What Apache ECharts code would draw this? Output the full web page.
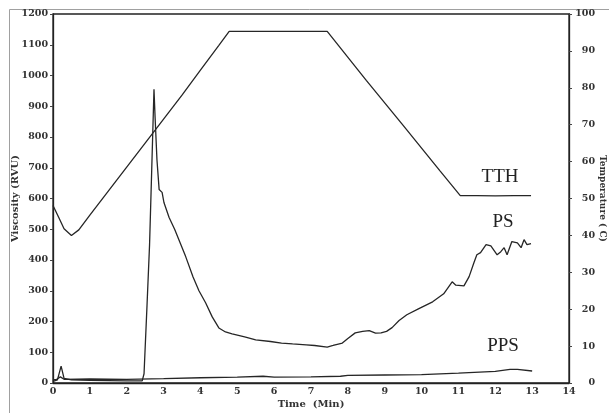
<!DOCTYPE html>
<html>
<head>
<meta charset="utf-8">
<script src="https://cdn.jsdelivr.net/npm/echarts@6/dist/echarts.min.js"></script>
<style>html,body{margin:0;padding:0;background:#fff;}#c{width:609px;height:413px;}</style>
</head>
<body>
<div id="c"></div>
<script>
// ---- data ----
const xTicks = [0,1,2,3,4,5,6,7,8,9,10,11,12,13,14];
const viscTicks = [0,100,200,300,400,500,600,700,800,900,1000,1100,1200];
const tempTicks = [0,10,20,30,40,50,60,70,80,90,100];

// TTH: temperature profile (right axis, deg C)
const tthTime = [0,0.05,0.15,0.3,0.5,0.7,1.0,1.5,2.0,2.5,3.0,3.5,4.0,4.5,4.78,5.5,6.5,7.44,8.5,9.5,10.5,11.05,11.5,12.0,12.5,12.97];
const tthTemp = [48.1,48.0,45.0,41.8,40.0,41.5,45.5,52.0,58.5,65.0,71.5,78.0,84.8,91.5,95.3,95.3,95.3,95.3,82.0,69.8,57.5,50.8,50.8,50.7,50.8,50.8];

// PS: paste viscosity (left axis, RVU)
const psTime = [0,0.12,0.22,0.3,0.5,1.0,1.5,2.0,2.42,2.47,2.55,2.62,2.68,2.74,2.77,2.82,2.88,2.96,3.01,3.15,3.3,3.6,3.8,3.96,4.14,4.32,4.5,4.68,4.86,5.2,5.5,5.9,6.2,6.5,6.87,7.1,7.44,7.6,7.85,8.0,8.2,8.4,8.58,8.75,8.9,9.05,9.2,9.39,9.6,9.9,10.3,10.6,10.83,10.93,11.15,11.29,11.42,11.5,11.6,11.75,11.88,12.05,12.15,12.24,12.32,12.45,12.6,12.7,12.78,12.86,12.97];
const psVisc = [5,10,55,15,10,9,8,7,7,30,250,450,700,955,864,727,629,620,587,538,500,411,345,300,261,215,179,166,160,150,140,135,130,127,124,122,117,122,130,145,163,168,170,162,163,168,180,203,222,240,264,290,329,318,316,346,391,417,424,450,446,417,427,440,417,460,456,440,466,450,453];

// PPS: (left axis, RVU)
const ppsTime = [0,0.1,0.2,0.3,1,2,3,4,5,5.7,6,7,7.8,8,9,10,11,12,12.4,12.6,13];
const ppsVisc = [10,12,20,12,13,12,14,17,19,22,19,20,22,25,26,27,32,38,44,44,39];

const zip = (a,b) => a.map((v,i) => [v,b[i]]);

const serif = 'DejaVu Serif';
const plain = v => String(v);
const labelStyle = {fontFamily: serif, fontSize: 9.5, fontWeight: 'bold', color: '#333', formatter: plain};
const lineStyle = {color: '#262626', width: 1.3};

const chart = echarts.init(document.getElementById('c'));
chart.setOption({
  animation: false,
  backgroundColor: '#fff',
  grid: {left: 53, right: 40, top: 14, bottom: 30, containLabel: false, outerBoundsMode: 'none',
         show: true, borderColor: '#222', borderWidth: 1.3},
  xAxis: {
    type: 'value', min: xTicks[0], max: xTicks[xTicks.length-1], interval: 1,
    name: 'Time  (Min)', nameLocation: 'middle', nameGap: 16, nameMoveOverlap: false,
    nameTextStyle: {fontFamily: serif, fontSize: 10, fontWeight: 'bold', color: '#333'},
    axisLine: {lineStyle: {color: '#222', width: 1.3}},
    axisTick: {show: false},
    axisLabel: Object.assign({margin: 4}, labelStyle),
    splitLine: {show: false}
  },
  yAxis: [{
    type: 'value', min: viscTicks[0], max: viscTicks[viscTicks.length-1], interval: 100,
    name: 'Viscosity (RVU)', nameLocation: 'middle', nameGap: 33, nameRotate: 90, nameMoveOverlap: false,
    nameTextStyle: {fontFamily: serif, fontSize: 10, fontWeight: 'bold', color: '#333'},
    axisLine: {show: true, lineStyle: {color: '#222', width: 1.3}},
    axisTick: {show: true, length: 3, lineStyle: {color: '#444'}},
    axisLabel: Object.assign({margin: 5}, labelStyle),
    splitLine: {show: false}
  }, {
    type: 'value', position: 'right', min: tempTicks[0], max: tempTicks[tempTicks.length-1], interval: 10,
    name: 'Temperature ( C)', nameLocation: 'middle', nameGap: 29, nameRotate: -90, nameMoveOverlap: false,
    nameTextStyle: {fontFamily: serif, fontSize: 9, fontWeight: 'bold', color: '#333'},
    axisLine: {show: true, lineStyle: {color: '#222', width: 1.3}},
    axisTick: {show: true, length: 3, lineStyle: {color: '#444'}},
    axisLabel: Object.assign({margin: 26, align: 'right'}, labelStyle),
    splitLine: {show: false}
  }],
  series: [
    {name: 'TTH', type: 'line', yAxisIndex: 1, data: zip(tthTime, tthTemp), showSymbol: false, lineStyle: lineStyle},
    {name: 'PS', type: 'line', yAxisIndex: 0, data: zip(psTime, psVisc), showSymbol: false, lineStyle: lineStyle},
    {name: 'PPS', type: 'line', yAxisIndex: 0, data: zip(ppsTime, ppsVisc), showSymbol: false, lineStyle: lineStyle}
  ],
  graphic: [
    {type: 'rect', left: 7, top: 7, silent: true, shape: {width: 640, height: 405}, style: {fill: 'none', stroke: '#a0a0a0', lineWidth: 1}},
    {type: 'text', x: 500, y: 177, style: {text: 'TTH', font: '19px "Liberation Serif"', fill: '#222', align: 'center', verticalAlign: 'middle'}},
    {type: 'text', x: 503, y: 222, style: {text: 'PS', font: '19px "Liberation Serif"', fill: '#222', align: 'center', verticalAlign: 'middle'}},
    {type: 'text', x: 503, y: 346, style: {text: 'PPS', font: '19px "Liberation Serif"', fill: '#222', align: 'center', verticalAlign: 'middle'}}
  ]
});
</script>
</body>
</html>
